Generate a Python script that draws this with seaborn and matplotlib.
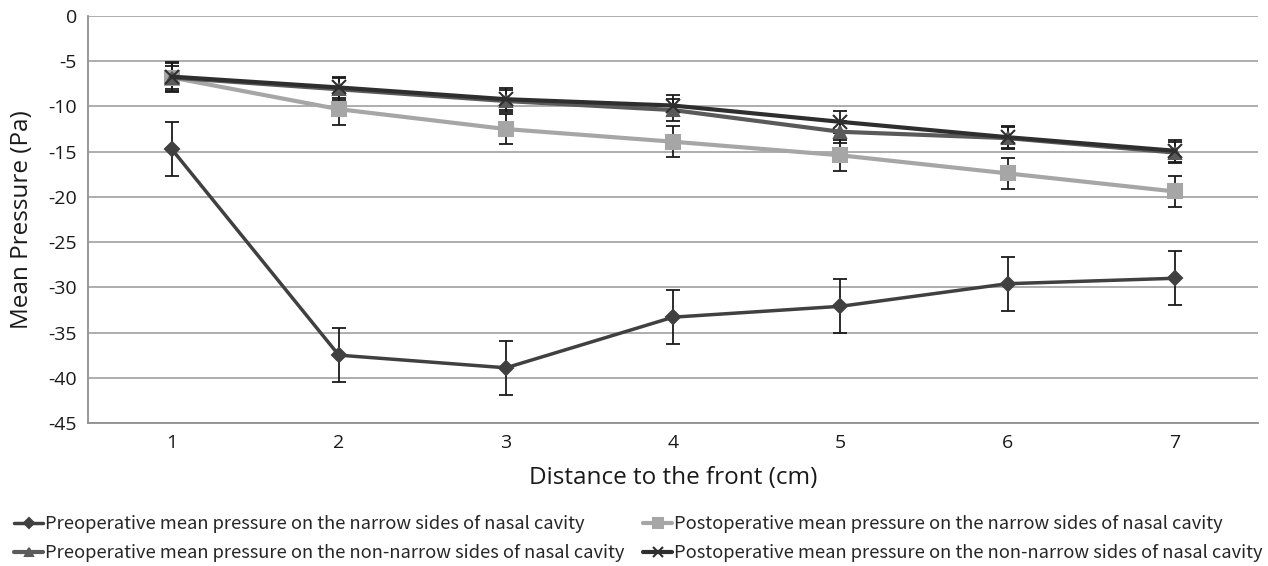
import matplotlib
matplotlib.use("Agg")
import matplotlib.pyplot as plt
import seaborn as sns
import pandas as pd
import numpy as np

distance = [1, 2, 3, 4, 5, 6, 7]
series_names = [
    "Preoperative mean pressure on the narrow sides of nasal cavity",
    "Postoperative mean pressure on the narrow sides of nasal cavity",
    "Preoperative mean pressure on the non-narrow sides of nasal cavity",
    "Postoperative mean pressure on the non-narrow sides of nasal cavity",
]
pre_narrow = [-14.7, -37.5, -38.9, -33.3, -32.1, -29.6, -29.0]
post_narrow = [-6.8, -10.3, -12.5, -13.9, -15.4, -17.4, -19.4]
pre_nonnarrow = [-6.8, -8.1, -9.4, -10.4, -12.8, -13.5, -15.1]
post_nonnarrow = [-6.7, -7.9, -9.2, -9.9, -11.7, -13.4, -14.9]
err_pre_narrow = [3.0, 3.0, 3.0, 3.0, 3.0, 3.0, 3.0]
err_post_narrow = [1.6, 1.7, 1.7, 1.7, 1.7, 1.7, 1.7]
err_pre_nonnarrow = [1.3, 1.2, 1.2, 1.2, 1.2, 1.2, 1.2]
err_post_nonnarrow = [1.6, 1.2, 1.2, 1.2, 1.2, 1.2, 1.2]

values = [pre_narrow, post_narrow, pre_nonnarrow, post_nonnarrow]
errors = [err_pre_narrow, err_post_narrow, err_pre_nonnarrow, err_post_nonnarrow]
colors = ["#404040", "#a6a6a6", "#5a5a5a", "#2e2e2e"]
markers = ["D", "s", "^", "x"]
msizes = [7, 10, 9, 10]
lws = [2.5, 3.0, 3.0, 3.0]

sns.set_style("white")
plt.rcParams['font.family'] = ['Open Sans', 'DejaVu Sans']
plt.rcParams['axes.unicode_minus'] = False

fig = plt.figure(figsize=(12.68, 5.66), dpi=100)
ax = fig.add_axes([0.0694, 0.2527, 0.9230, 0.7190])

order = [1, 2, 0, 3]
for i in order:
    df = pd.DataFrame({"x": distance, "y": values[i]})
    ax.errorbar(distance, values[i], yerr=errors[i], fmt="none", ecolor="#1a1a1a",
                elinewidth=1.3, capsize=5, capthick=1.3, zorder=2)
    sns.lineplot(data=df, x="x", y="y", ax=ax, color=colors[i], marker=markers[i],
                 markersize=msizes[i], linewidth=lws[i], markeredgecolor=colors[i],
                 markeredgewidth=1.5, label=series_names[i], legend=False, zorder=3)

ax.set_xlim(0.5, 7.5)
ax.set_ylim(-45, 0)
ax.set_yticks(np.arange(-45, 1, 5))
ax.set_xticks(distance)
ax.set_xticklabels([str(d) for d in distance])
ax.yaxis.grid(True, color="#a0a0a0", linewidth=1.2)
ax.xaxis.grid(False)
for s in ["top", "right"]:
    ax.spines[s].set_visible(False)
for s in ["left", "bottom"]:
    ax.spines[s].set_color("#909090")
    ax.spines[s].set_linewidth(1.3)
ax.tick_params(axis="both", length=0, labelsize=14, colors="#1a1a1a", pad=8)
ax.set_xlabel("Distance to the front (cm)", fontsize=17.5, labelpad=10, color="#1a1a1a")
ax.set_ylabel("Mean Pressure (Pa)", fontsize=17.5, labelpad=10, color="#1a1a1a")

handles, labels = ax.get_legend_handles_labels()
hd = dict(zip(labels, handles))
leg_order = [series_names[0], series_names[2], series_names[1], series_names[3]]
fig.legend([hd[n] for n in leg_order], leg_order, loc="lower left",
           bbox_to_anchor=(-0.002, -0.022), ncol=2, frameon=False,
           prop={"family": ["Noto Sans CJK SC", "DejaVu Sans"], "size": 13.2},
           handlelength=1.6, handletextpad=0.1, columnspacing=1.0, labelspacing=0.6,
           markerscale=0.7)

fig.savefig("out.png", dpi=100, facecolor="white")
